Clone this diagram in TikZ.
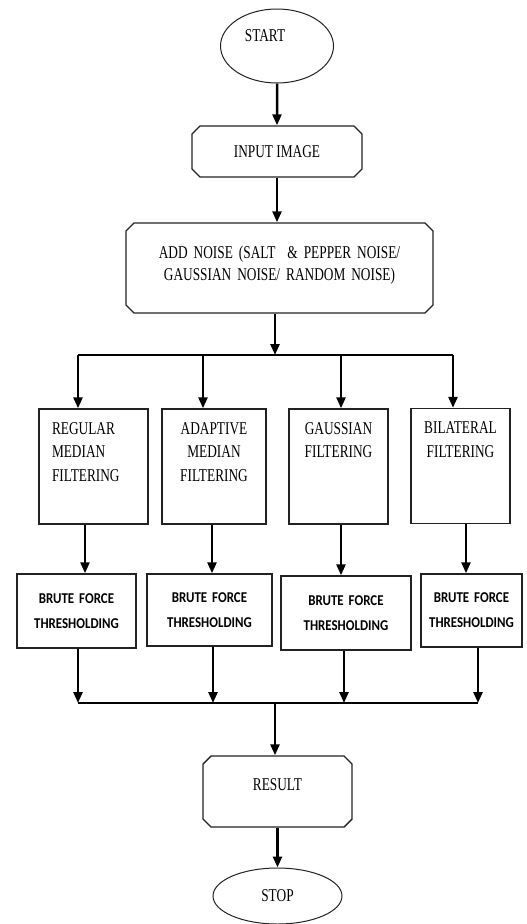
\documentclass[tikz,border=0pt]{standalone}
\usepackage{fontspec}
\setmainfont[FakeStretch=0.74]{Liberation Serif}
\newfontfamily\thfont[FakeStretch=0.86]{Carlito}
\usetikzlibrary{arrows.meta,shapes.geometric,shapes.misc}
\definecolor{ln}{HTML}{222222}
\tikzset{
  term/.style={ellipse,draw=ln,line width=1pt,inner sep=0pt,font=\fontsize{18}{22}\selectfont},
  cbox/.style={chamfered rectangle,chamfered rectangle xsep=4pt,chamfered rectangle ysep=4pt,draw=ln,line width=1.4pt,align=center,inner sep=0pt,font=\fontsize{18}{22}\selectfont},
  filt/.style={rectangle,draw=ln,line width=1.4pt,inner ysep=0pt,inner xsep=4pt,font=\fontsize{18}{23.5}\selectfont,text height=25pt,text depth=90pt},
  tbox/.style={rectangle,draw=ln,line width=1.4pt,align=center,inner sep=0pt,font=\thfont\bfseries\fontsize{15}{25}\selectfont},
  ar/.style={-{Triangle[length=11pt,width=9pt]},line width=2.5pt},
  bus/.style={line width=1.5pt},
}

\begin{document}
\begin{tikzpicture}[x=1pt,y=-1pt]
\useasboundingbox (0,0) rectangle (527,924);
\node[term,minimum width=113pt,minimum height=74pt,text height=11pt,text depth=21pt] (start) at (277,46) {START\hspace*{24pt}};
\node[cbox,minimum width=170pt,minimum height=51pt] (input) at (277,151.5) {INPUT IMAGE};
\node[cbox,minimum width=307pt,minimum height=82pt,text width=290pt,text height=31pt,text depth=51pt] (noise) at (279.5,268)
  {ADD NOISE (SALT~ \& PEPPER NOISE/\\GAUSSIAN NOISE/ RANDOM NOISE)};

\node[filt,minimum width=109pt,inner xsep=13pt,text width=83pt,align=left] (f1) at (93.5,466.5) {REGULAR\\MEDIAN\\FILTERING};
\node[filt,minimum width=104pt,text width=96pt,align=center] (f2) at (214,466.5) {ADAPTIVE\\MEDIAN\\FILTERING};
\node[filt,minimum width=99pt,text width=91pt,align=center] (f3) at (338.5,466.5) {GAUSSIAN\\FILTERING};
\node[filt,minimum width=99pt,text width=91pt,align=center] (f4) at (460.5,466) {BILATERAL\\FILTERING};

\node[tbox,minimum width=119pt,minimum height=74pt,text width=115pt] (t1) at (76.5,611) {BRUTE FORCE\\THRESHOLDING};
\node[tbox,minimum width=125pt,minimum height=72pt,text width=121pt] (t2) at (209.5,610) {BRUTE FORCE\\THRESHOLDING};
\node[tbox,minimum width=130pt,minimum height=74pt,text width=126pt] (t3) at (346,613) {BRUTE FORCE\\THRESHOLDING};
\node[tbox,minimum width=101pt,minimum height=73pt,text width=97pt] (t4) at (471.5,610.5) {BRUTE FORCE\\THRESHOLDING};

\node[cbox,minimum width=149pt,minimum height=63pt,text height=30pt,text depth=33pt] (result) at (277.5,791.5) {RESULT};
\node[term,minimum width=129pt,minimum height=56pt] (stop) at (277.5,896) {STOP};

\coordinate (s0) at (275,355);
\coordinate (s1) at (78,355);
\coordinate (s2) at (203,355);
\coordinate (s3) at (341,355);
\coordinate (s4) at (453,355);
\coordinate (m0) at (275,703);
\coordinate (m1) at (78,703);
\coordinate (m2) at (213,703);
\coordinate (m3) at (344,703);
\coordinate (m4) at (478,703);

\draw[ar] (start) -- (input);
\draw[ar] (input.south) -- (input.south |- noise.north);
\draw[ar] (noise.south -| s0) -- (s0);
\draw[bus] (s1) -- (s4);
\foreach \n/\f in {1/f1,2/f2,3/f3,4/f4}
  \draw[ar] (s\n) -- (s\n |- \f.north);
\foreach \f/\t/\x in {f1/t1/85,f2/t2/212,f3/t3/341,f4/t4/466}
  \draw[ar] (\f.south -| \x,0) -- (\t.north -| \x,0);
\foreach \n/\t in {1/t1,2/t2,3/t3,4/t4}
  \draw[ar] (m\n |- \t.south) -- (m\n);
\draw[bus] (m1) -- (m4);
\draw[ar] (m0) -- (m0 |- result.north);
\draw[ar] (result) -- (stop);
\end{tikzpicture}
\end{document}
